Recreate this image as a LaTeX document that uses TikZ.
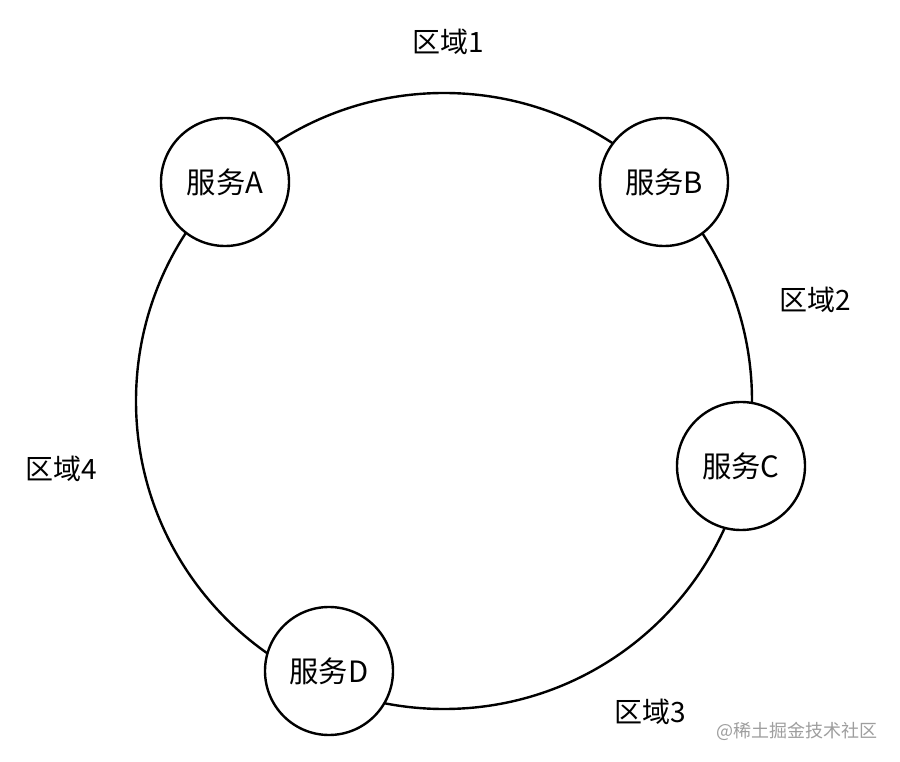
\documentclass[tikz,border=0pt]{standalone}
\usepackage{fontspec}
\newfontfamily\cjk{Noto Sans CJK SC}
\begin{document}
\begin{tikzpicture}[x=0.75pt,y=-0.75pt,
  svc/.style={circle,draw=black,line width=1.8pt,fill=white,minimum size=96pt,inner sep=0pt,font=\cjk\fontsize{22}{26}\selectfont},
  zone/.style={font=\cjk\fontsize{21}{25}\selectfont,inner sep=0pt},
  ring/.style={draw=black,line width=1.8pt}]
\useasboundingbox[fill=white] (0,0) rectangle (900,762);
\coordinate (ctr) at (444,401);
\draw[ring] (ctr) circle[radius=308];
\node[svc] (A) at (225,182) {服务A};
\node[svc] (B) at (664,182) {服务B};
\node[svc] (C) at (741,466) {服务C};
\node[svc] (D) at (329,671) {服务D};
\node[zone] (z1) at (448,42) {区域1};
\node[zone] (z2) at (815,300) {区域2};
\node[zone] (z3) at (650,712) {区域3};
\node[zone] (z4) at (61,469) {区域4};
\node[font=\cjk\fontsize{13.5}{16}\selectfont,text=black!38,inner sep=0pt] (wm) at (797,731) {@稀土掘金技术社区};
\end{tikzpicture}
\end{document}
